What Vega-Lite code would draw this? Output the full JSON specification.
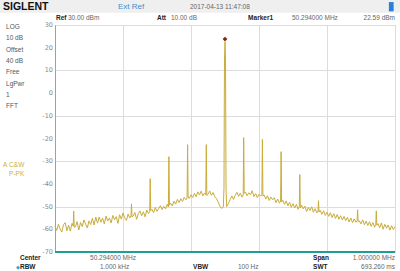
{
  "$schema": "https://vega.github.io/schema/vega-lite/v6.json",
  "autosize": {"type": "none"},
  "width": 340,
  "height": 227,
  "padding": {"left": 55, "top": 25, "right": 5, "bottom": 19},
  "background": "white",
  "config": {
    "view": {"stroke": "#c8c8c8"},
    "font": "Liberation Sans",
    "axis": {"gridColor": "#dcdcdc", "gridWidth": 1},
    "axisY": {"labels": false, "ticks": false, "domainColor": "#a0a0a0", "title": null},
    "axisX": {"labels": false, "ticks": false, "domain": false, "title": null}
  },
  "datasets": {
    "trace": [
      {"f": 49.794, "dbm": -58.5}, {"f": 49.799, "dbm": -60.5}, {"f": 49.804, "dbm": -57.8}, {"f": 49.809, "dbm": -59.9}, {"f": 49.814, "dbm": -61.2},
      {"f": 49.819, "dbm": -58.0}, {"f": 49.824, "dbm": -57.1}, {"f": 49.829, "dbm": -60.6}, {"f": 49.834, "dbm": -58.2}, {"f": 49.839, "dbm": -60.8},
      {"f": 49.844, "dbm": -57.4}, {"f": 49.8475, "dbm": -58.6}, {"f": 49.849, "dbm": -52.0}, {"f": 49.8505, "dbm": -59.1}, {"f": 49.854, "dbm": -58.9}, {"f": 49.859, "dbm": -56.6}, {"f": 49.864, "dbm": -60.3},
      {"f": 49.869, "dbm": -57.0}, {"f": 49.874, "dbm": -58.8}, {"f": 49.879, "dbm": -55.9}, {"f": 49.884, "dbm": -57.7}, {"f": 49.889, "dbm": -59.4},
      {"f": 49.894, "dbm": -56.3}, {"f": 49.899, "dbm": -57.9}, {"f": 49.904, "dbm": -55.2}, {"f": 49.909, "dbm": -58.1}, {"f": 49.914, "dbm": -54.6},
      {"f": 49.919, "dbm": -57.3}, {"f": 49.924, "dbm": -54.6}, {"f": 49.929, "dbm": -56.9}, {"f": 49.934, "dbm": -55.1}, {"f": 49.939, "dbm": -57.6},
      {"f": 49.944, "dbm": -54.2}, {"f": 49.949, "dbm": -56.3}, {"f": 49.954, "dbm": -55.0}, {"f": 49.959, "dbm": -57.2}, {"f": 49.964, "dbm": -53.9},
      {"f": 49.969, "dbm": -55.8}, {"f": 49.974, "dbm": -54.4}, {"f": 49.979, "dbm": -57.4}, {"f": 49.984, "dbm": -53.6}, {"f": 49.989, "dbm": -55.5},
      {"f": 49.994, "dbm": -52.8}, {"f": 49.999, "dbm": -54.9}, {"f": 50.004, "dbm": -56.1}, {"f": 50.009, "dbm": -53.3}, {"f": 50.014, "dbm": -55.0},
      {"f": 50.0175, "dbm": -54.0}, {"f": 50.019, "dbm": -48.8}, {"f": 50.0205, "dbm": -54.5}, {"f": 50.024, "dbm": -54.2}, {"f": 50.029, "dbm": -52.6}, {"f": 50.034, "dbm": -55.6}, {"f": 50.039, "dbm": -53.1},
      {"f": 50.044, "dbm": -51.9}, {"f": 50.049, "dbm": -54.0}, {"f": 50.054, "dbm": -52.3}, {"f": 50.059, "dbm": -54.5}, {"f": 50.064, "dbm": -51.5},
      {"f": 50.069, "dbm": -53.0}, {"f": 50.0725, "dbm": -52.2}, {"f": 50.074, "dbm": -37.7}, {"f": 50.0755, "dbm": -51.8}, {"f": 50.079, "dbm": -51.2}, {"f": 50.084, "dbm": -52.7}, {"f": 50.089, "dbm": -50.4},
      {"f": 50.094, "dbm": -52.1}, {"f": 50.099, "dbm": -50.9}, {"f": 50.104, "dbm": -49.6}, {"f": 50.109, "dbm": -51.3}, {"f": 50.114, "dbm": -49.9},
      {"f": 50.119, "dbm": -51.0}, {"f": 50.124, "dbm": -49.0}, {"f": 50.1275, "dbm": -50.1}, {"f": 50.129, "dbm": -28.0}, {"f": 50.1305, "dbm": -49.4}, {"f": 50.134, "dbm": -48.5}, {"f": 50.139, "dbm": -49.7},
      {"f": 50.144, "dbm": -47.6}, {"f": 50.149, "dbm": -48.9}, {"f": 50.154, "dbm": -46.8}, {"f": 50.159, "dbm": -48.2}, {"f": 50.164, "dbm": -46.5},
      {"f": 50.169, "dbm": -47.8}, {"f": 50.174, "dbm": -45.9}, {"f": 50.179, "dbm": -47.0}, {"f": 50.1825, "dbm": -46.2}, {"f": 50.184, "dbm": -22.7}, {"f": 50.1855, "dbm": -45.8}, {"f": 50.189, "dbm": -46.4},
      {"f": 50.194, "dbm": -44.8}, {"f": 50.199, "dbm": -46.0}, {"f": 50.204, "dbm": -44.2}, {"f": 50.209, "dbm": -45.6}, {"f": 50.214, "dbm": -43.5},
      {"f": 50.219, "dbm": -44.9}, {"f": 50.224, "dbm": -43.2}, {"f": 50.229, "dbm": -45.3}, {"f": 50.234, "dbm": -44.0}, {"f": 50.2375, "dbm": -44.8}, {"f": 50.239, "dbm": -22.7}, {"f": 50.2405, "dbm": -45.1},
      {"f": 50.244, "dbm": -44.6}, {"f": 50.249, "dbm": -43.1}, {"f": 50.254, "dbm": -45.0}, {"f": 50.259, "dbm": -43.8}, {"f": 50.264, "dbm": -45.7},
      {"f": 50.269, "dbm": -46.5}, {"f": 50.274, "dbm": -48.0}, {"f": 50.279, "dbm": -49.8}, {"f": 50.284, "dbm": -50.8}, {"f": 50.289, "dbm": -50.2},
      {"f": 50.291, "dbm": -42.0}, {"f": 50.2925, "dbm": 15.0}, {"f": 50.294, "dbm": 22.59}, {"f": 50.2955, "dbm": 15.0}, {"f": 50.297, "dbm": -42.0},
      {"f": 50.299, "dbm": -50.0}, {"f": 50.304, "dbm": -48.6}, {"f": 50.309, "dbm": -46.9}, {"f": 50.314, "dbm": -45.3}, {"f": 50.319, "dbm": -46.8},
      {"f": 50.324, "dbm": -45.0}, {"f": 50.329, "dbm": -43.7}, {"f": 50.334, "dbm": -45.5}, {"f": 50.339, "dbm": -44.1}, {"f": 50.344, "dbm": -45.8},
      {"f": 50.3475, "dbm": -44.9}, {"f": 50.349, "dbm": -19.6}, {"f": 50.3505, "dbm": -44.2}, {"f": 50.354, "dbm": -43.6}, {"f": 50.359, "dbm": -45.2}, {"f": 50.364, "dbm": -43.9}, {"f": 50.369, "dbm": -44.8},
      {"f": 50.374, "dbm": -43.0}, {"f": 50.379, "dbm": -45.6}, {"f": 50.384, "dbm": -44.3}, {"f": 50.389, "dbm": -46.0}, {"f": 50.394, "dbm": -44.5},
      {"f": 50.399, "dbm": -45.4}, {"f": 50.4025, "dbm": -44.8}, {"f": 50.404, "dbm": -20.4}, {"f": 50.4055, "dbm": -45.3}, {"f": 50.409, "dbm": -44.9}, {"f": 50.414, "dbm": -46.7}, {"f": 50.419, "dbm": -45.2},
      {"f": 50.424, "dbm": -47.3}, {"f": 50.429, "dbm": -45.8}, {"f": 50.434, "dbm": -47.0}, {"f": 50.439, "dbm": -46.1}, {"f": 50.444, "dbm": -48.2},
      {"f": 50.449, "dbm": -46.7}, {"f": 50.454, "dbm": -48.5}, {"f": 50.4575, "dbm": -47.6}, {"f": 50.459, "dbm": -25.8}, {"f": 50.4605, "dbm": -47.9}, {"f": 50.464, "dbm": -47.2}, {"f": 50.469, "dbm": -49.0},
      {"f": 50.474, "dbm": -47.5}, {"f": 50.479, "dbm": -49.6}, {"f": 50.484, "dbm": -48.1}, {"f": 50.489, "dbm": -50.3}, {"f": 50.494, "dbm": -48.7},
      {"f": 50.499, "dbm": -50.6}, {"f": 50.504, "dbm": -49.0}, {"f": 50.509, "dbm": -51.2}, {"f": 50.5125, "dbm": -50.0}, {"f": 50.514, "dbm": -35.9}, {"f": 50.5155, "dbm": -50.6}, {"f": 50.519, "dbm": -49.3},
      {"f": 50.524, "dbm": -51.0}, {"f": 50.529, "dbm": -49.8}, {"f": 50.534, "dbm": -52.2}, {"f": 50.539, "dbm": -50.4}, {"f": 50.544, "dbm": -51.7},
      {"f": 50.549, "dbm": -50.1}, {"f": 50.554, "dbm": -52.5}, {"f": 50.559, "dbm": -50.9}, {"f": 50.564, "dbm": -52.8}, {"f": 50.5675, "dbm": -52.0}, {"f": 50.569, "dbm": -47.4}, {"f": 50.5705, "dbm": -52.4},
      {"f": 50.574, "dbm": -51.6}, {"f": 50.579, "dbm": -53.4}, {"f": 50.584, "dbm": -51.8}, {"f": 50.589, "dbm": -53.9}, {"f": 50.594, "dbm": -52.4},
      {"f": 50.599, "dbm": -54.3}, {"f": 50.604, "dbm": -52.7}, {"f": 50.609, "dbm": -54.8}, {"f": 50.614, "dbm": -53.1}, {"f": 50.619, "dbm": -55.2},
      {"f": 50.624, "dbm": -53.5}, {"f": 50.629, "dbm": -55.6}, {"f": 50.634, "dbm": -54.0}, {"f": 50.639, "dbm": -55.9}, {"f": 50.644, "dbm": -54.3},
      {"f": 50.649, "dbm": -56.2}, {"f": 50.654, "dbm": -54.7}, {"f": 50.659, "dbm": -56.8}, {"f": 50.664, "dbm": -55.0}, {"f": 50.669, "dbm": -57.1},
      {"f": 50.674, "dbm": -55.4}, {"f": 50.679, "dbm": -56.9}, {"f": 50.6825, "dbm": -56.2}, {"f": 50.684, "dbm": -51.4}, {"f": 50.6855, "dbm": -56.6}, {"f": 50.689, "dbm": -56.3}, {"f": 50.694, "dbm": -57.6},
      {"f": 50.699, "dbm": -55.8}, {"f": 50.704, "dbm": -58.0}, {"f": 50.709, "dbm": -56.4}, {"f": 50.714, "dbm": -58.3}, {"f": 50.719, "dbm": -56.7},
      {"f": 50.724, "dbm": -58.7}, {"f": 50.729, "dbm": -57.0}, {"f": 50.734, "dbm": -59.1}, {"f": 50.7375, "dbm": -57.8}, {"f": 50.739, "dbm": -51.9}, {"f": 50.7405, "dbm": -58.2}, {"f": 50.744, "dbm": -57.5},
      {"f": 50.749, "dbm": -59.3}, {"f": 50.754, "dbm": -57.2}, {"f": 50.759, "dbm": -60.0}, {"f": 50.764, "dbm": -57.8}, {"f": 50.769, "dbm": -59.5},
      {"f": 50.774, "dbm": -58.1}, {"f": 50.779, "dbm": -60.4}, {"f": 50.784, "dbm": -58.4}, {"f": 50.789, "dbm": -60.1}, {"f": 50.794, "dbm": -58.9}
    ],
    "marker": [{"f": 50.294, "dbm": 23.8}],
    "yLabels": [
      {"v": -70, "lab": "-70"}, {"v": -60, "lab": "-60"}, {"v": -50, "lab": "-50"}, {"v": -40, "lab": "-40"}, {"v": -30, "lab": "-30"},
      {"v": -20, "lab": "-20"}, {"v": -10, "lab": "-10"}, {"v": 0, "lab": "0"}, {"v": 10, "lab": "10"}, {"v": 20, "lab": "20"}, {"v": 30, "lab": "30"}
    ],
    "boldNotes": [
      {"f": 49.797, "lvl": 33.1, "t": "Ref"},
      {"f": 50.094, "lvl": 33.1, "t": "Att"},
      {"f": 50.362, "lvl": 33.1, "t": "Marker1"},
      {"f": 49.691, "lvl": -72.6, "t": "Center"},
      {"f": 49.691, "lvl": -76.6, "t": "RBW"},
      {"f": 50.200, "lvl": -76.6, "t": "VBW"},
      {"f": 50.553, "lvl": -72.6, "t": "Span"},
      {"f": 50.553, "lvl": -76.6, "t": "SWT"}
    ],
    "plainNotes": [
      {"f": 49.832, "lvl": 33.1, "t": "30.00 dBm"},
      {"f": 50.135, "lvl": 33.1, "t": "10.00 dB"},
      {"f": 50.491, "lvl": 33.1, "t": "50.294000 MHz"},
      {"f": 49.897, "lvl": -72.6, "t": "50.294000 MHz"},
      {"f": 49.926, "lvl": -76.6, "t": "1.000 kHz"},
      {"f": 50.332, "lvl": -76.6, "t": "100 Hz"},
      {"f": 50.191, "lvl": 37.9, "t": "2017-04-13   11:47:08"}
    ],
    "rightNotes": [
      {"f": 50.794, "lvl": 33.1, "t": "22.59 dBm"},
      {"f": 50.794, "lvl": -72.6, "t": "1.000000 MHz"},
      {"f": 50.794, "lvl": -76.6, "t": "693.260 ms"}
    ],
    "sideNotes": [
      {"f": 49.650, "lvl": 29.1, "t": "LOG"},
      {"f": 49.650, "lvl": 24.3, "t": "10 dB"},
      {"f": 49.650, "lvl": 19.0, "t": "Offset"},
      {"f": 49.650, "lvl": 14.1, "t": "40 dB"},
      {"f": 49.650, "lvl": 9.3, "t": "Free"},
      {"f": 49.650, "lvl": 4.0, "t": "LgPwr"},
      {"f": 49.650, "lvl": -0.8, "t": "1"},
      {"f": 49.650, "lvl": -5.7, "t": "FFT"}
    ],
    "traceNotes": [
      {"f": 49.641, "lvl": -31.7, "t": "A"},
      {"f": 49.659, "lvl": -31.7, "t": "C&W"},
      {"f": 49.659, "lvl": -35.6, "t": "P-PK"}
    ],
    "one": [{"k": 1}]
  },
  "layer": [
    {
      "data": {"name": "trace"},
      "mark": {"type": "line", "color": "#c9ac3a", "strokeWidth": 1, "interpolate": "linear"},
      "encoding": {
        "x": {"field": "f", "type": "quantitative",
              "scale": {"domain": [49.794, 50.794], "nice": false, "zero": false},
              "axis": {"values": [49.794, 49.894, 49.994, 50.094, 50.194, 50.294, 50.394, 50.494, 50.594, 50.694, 50.794], "grid": true}},
        "y": {"field": "dbm", "type": "quantitative",
              "scale": {"domain": [-70, 30], "nice": false, "zero": false},
              "axis": {"values": [-70, -60, -50, -40, -30, -20, -10, 0, 10, 20, 30], "grid": true}}
      }
    },
    {
      "data": {"name": "one"},
      "mark": {"type": "rect", "color": "#efefef", "clip": false},
      "encoding": {"x": {"datum": 49.632}, "x2": {"datum": 50.809}, "y": {"datum": 41.0}, "y2": {"datum": 35.4}}
    },
    {
      "data": {"name": "one"},
      "mark": {"type": "rect", "color": "#2b7fd6", "clip": false},
      "encoding": {"x": {"datum": 50.776}, "x2": {"datum": 50.790}, "y": {"datum": 40.1}, "y2": {"datum": 36.0}}
    },
    {
      "data": {"name": "one"},
      "mark": {"type": "rule", "color": "#1f9e98", "strokeWidth": 2, "clip": false},
      "encoding": {"y": {"datum": -70}}
    },
    {
      "data": {"name": "marker"},
      "mark": {"type": "point", "shape": "diamond", "filled": true, "color": "#7a2a10", "size": 22, "opacity": 1},
      "encoding": {
        "x": {"field": "f", "type": "quantitative"},
        "y": {"field": "dbm", "type": "quantitative"}
      }
    },
    {
      "data": {"name": "yLabels"},
      "mark": {"type": "text", "font": "DejaVu Sans", "fontSize": 6.5, "color": "#888888", "align": "right", "baseline": "middle", "clip": false},
      "encoding": {"x": {"datum": 49.788}, "y": {"field": "v", "type": "quantitative"}, "text": {"field": "lab"}}
    },
    {
      "data": {"name": "one"},
      "mark": {"type": "text", "text": "SIGLENT", "fontWeight": "bold", "fontSize": 10.5, "color": "#111111", "align": "left", "baseline": "middle", "clip": false},
      "encoding": {"x": {"datum": 49.641}, "y": {"datum": 37.9}}
    },
    {
      "data": {"name": "one"},
      "mark": {"type": "text", "text": "Ext Ref", "fontSize": 8, "color": "#3a8fc9", "align": "left", "baseline": "middle", "clip": false},
      "encoding": {"x": {"datum": 49.979}, "y": {"datum": 38.0}}
    },
    {
      "data": {"name": "one"},
      "mark": {"type": "text", "text": "\u25c6", "font": "DejaVu Sans", "fontSize": 5, "color": "#3aa0d8", "align": "left", "baseline": "middle", "clip": false},
      "encoding": {"x": {"datum": 49.679}, "y": {"datum": -76.6}}
    },
    {
      "data": {"name": "boldNotes"},
      "mark": {"type": "text", "fontSize": 6.5, "fontWeight": "bold", "color": "#222222", "align": "left", "baseline": "middle", "clip": false},
      "encoding": {"x": {"field": "f", "type": "quantitative"}, "y": {"field": "lvl", "type": "quantitative"}, "text": {"field": "t"}}
    },
    {
      "data": {"name": "plainNotes"},
      "mark": {"type": "text", "fontSize": 6.5, "color": "#666666", "align": "left", "baseline": "middle", "clip": false},
      "encoding": {"x": {"field": "f", "type": "quantitative"}, "y": {"field": "lvl", "type": "quantitative"}, "text": {"field": "t"}}
    },
    {
      "data": {"name": "rightNotes"},
      "mark": {"type": "text", "fontSize": 6.5, "color": "#666666", "align": "right", "baseline": "middle", "clip": false},
      "encoding": {"x": {"field": "f", "type": "quantitative"}, "y": {"field": "lvl", "type": "quantitative"}, "text": {"field": "t"}}
    },
    {
      "data": {"name": "sideNotes"},
      "mark": {"type": "text", "fontSize": 6.5, "color": "#555555", "align": "left", "baseline": "middle", "clip": false},
      "encoding": {"x": {"field": "f", "type": "quantitative"}, "y": {"field": "lvl", "type": "quantitative"}, "text": {"field": "t"}}
    },
    {
      "data": {"name": "traceNotes"},
      "mark": {"type": "text", "fontSize": 6.5, "color": "#c9b040", "align": "left", "baseline": "middle", "clip": false},
      "encoding": {"x": {"field": "f", "type": "quantitative"}, "y": {"field": "lvl", "type": "quantitative"}, "text": {"field": "t"}}
    }
  ]
}
